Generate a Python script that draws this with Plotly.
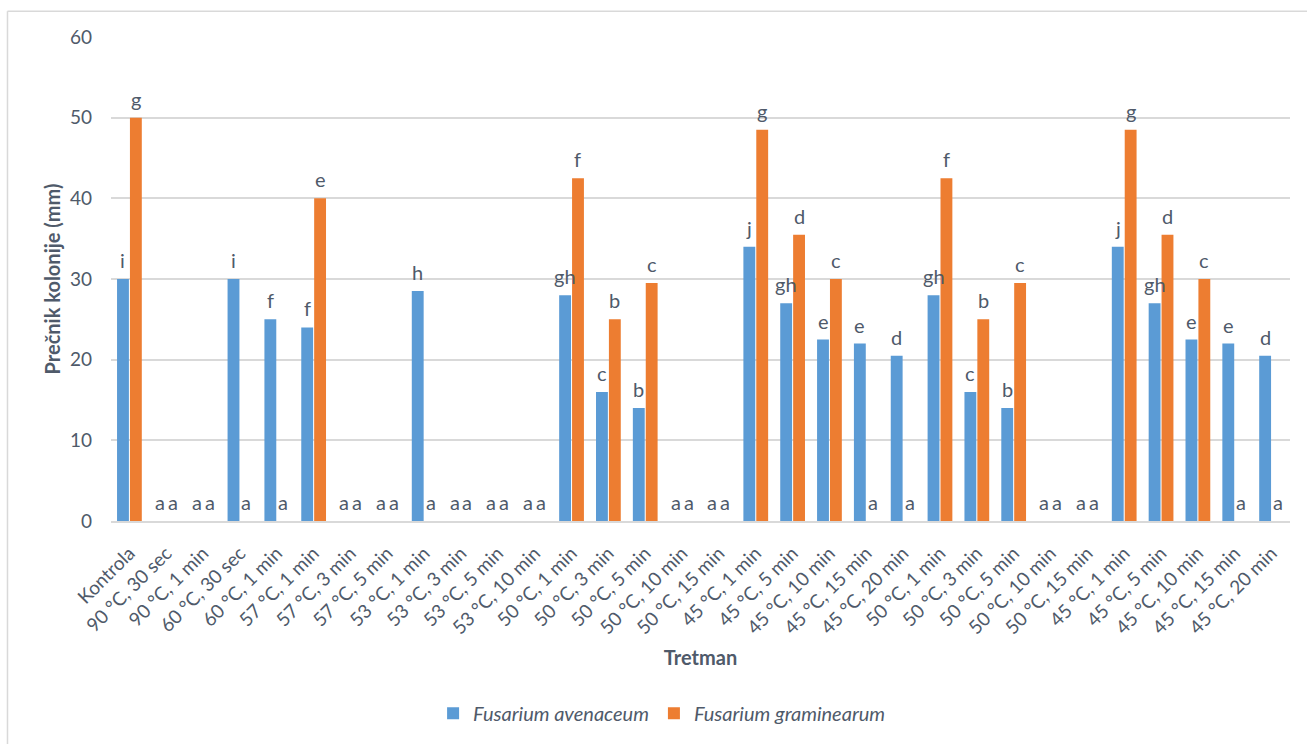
import plotly.graph_objects as go

categories = ["Kontrola", "90 °C, 30 sec", "90 °C, 1 min", "60 °C, 30 sec", "60 °C, 1 min",
              "57 °C, 1 min", "57 °C, 3 min", "57 °C, 5 min", "53 °C, 1 min", "53 °C, 3 min",
              "53 °C, 5 min", "53 °C, 10 min", "50 °C, 1 min", "50 °C, 3 min", "50 °C, 5 min",
              "50 °C, 10 min", "50 °C, 15 min", "45 °C, 1 min", "45 °C, 5 min", "45 °C, 10 min",
              "45 °C, 15 min", "45 °C, 20 min", "50 °C, 1 min", "50 °C, 3 min", "50 °C, 5 min",
              "50 °C, 10 min", "50 °C, 15 min", "45 °C, 1 min", "45 °C, 5 min", "45 °C, 10 min",
              "45 °C, 15 min", "45 °C, 20 min"]

avenaceum = [30, 0, 0, 30, 25, 24, 0, 0, 28.5, 0, 0, 0, 28, 16, 14, 0, 0,
             34, 27, 22.5, 22, 20.5, 28, 16, 14, 0, 0, 34, 27, 22.5, 22, 20.5]
graminearum = [50, 0, 0, 0, 0, 40, 0, 0, 0, 0, 0, 0, 42.5, 25, 29.5, 0, 0,
               48.5, 35.5, 30, 0, 0, 42.5, 25, 29.5, 0, 0, 48.5, 35.5, 30, 0, 0]

avenaceum_letters = ["i", "a", "a", "i", "f", "f", "a", "a", "h", "a", "a", "a", "gh", "c", "b", "a", "a",
                     "j", "gh", "e", "e", "d", "gh", "c", "b", "a", "a", "j", "gh", "e", "e", "d"]
graminearum_letters = ["g", "a", "a", "a", "a", "e", "a", "a", "a", "a", "a", "a", "f", "b", "c", "a", "a",
                       "g", "d", "c", "a", "a", "f", "b", "c", "a", "a", "g", "d", "c", "a", "a"]

y_ticks = [0, 10, 20, 30, 40, 50, 60]

TEXT = "#4f5a6a"
FONT = "Lato, 'Open Sans', sans-serif"
idx = list(range(len(categories)))

BARGAP = 0.3
GROUPGAP = 0.08
half = (1 - BARGAP) / 4  # centre offset of each bar within a group

fig = go.Figure()
fig.add_trace(go.Bar(
    x=idx, y=avenaceum, name="Fusarium avenaceum",
    marker=dict(color="#5B9BD5", line=dict(width=0)),
))
fig.add_trace(go.Bar(
    x=idx, y=graminearum, name="Fusarium graminearum",
    marker=dict(color="#ED7D31", line=dict(width=0)),
))

annotations = []
for series, letters, sign in ((avenaceum, avenaceum_letters, -1), (graminearum, graminearum_letters, 1)):
    for i, (v, t) in enumerate(zip(series, letters)):
        annotations.append(dict(
            x=i + sign * half, y=v, xref="x", yref="y", text=t, showarrow=False,
            xanchor="center", yanchor="middle", yshift=19,
            font=dict(size=20, color=TEXT, family=FONT),
        ))

fig.update_layout(
    width=1307, height=744,
    margin=dict(l=111, r=17, t=37, b=218),
    paper_bgcolor="white", plot_bgcolor="white",
    font=dict(family=FONT, color=TEXT, size=18),
    barmode="group", bargap=BARGAP, bargroupgap=GROUPGAP,
    showlegend=True,
    legend=dict(orientation="h", x=0.467, xanchor="center", y=-0.397, yanchor="middle",
                font=dict(size=20, style="italic", color=TEXT), traceorder="normal"),
    xaxis=dict(
        tickmode="array", tickvals=idx, ticktext=categories, tickangle=-45,
        range=[-0.5, len(categories) - 0.5],
        tickfont=dict(size=19, color=TEXT), showgrid=False, zeroline=False,
        showline=True, linecolor="#D9D9D9", linewidth=1.5,
        ticklabelstandoff=12,
        title=dict(text="<b>Tretman</b>", font=dict(size=20, color=TEXT), standoff=14),
    ),
    yaxis=dict(
        range=[0, 60], tickvals=y_ticks, tickfont=dict(size=19, color=TEXT),
        showgrid=True, gridcolor="#D9D9D9", gridwidth=1.5, zeroline=False,
        ticklabelstandoff=18,
        title=dict(text="<b>Prečnik kolonije (mm)</b>", font=dict(size=20, color=TEXT), standoff=3),
    ),
    annotations=annotations,
    shapes=[
        dict(type="line", xref="paper", yref="paper", x0=-0.0878, x1=-0.0878, y0=-0.50, y1=1.053,
             line=dict(color="#D9D9D9", width=1.5), layer="below"),
        dict(type="line", xref="paper", yref="paper", x0=-0.0878, x1=1.03, y0=1.053, y1=1.053,
             line=dict(color="#D9D9D9", width=1.5), layer="below"),
    ],
)

fig.write_html("out.html")
